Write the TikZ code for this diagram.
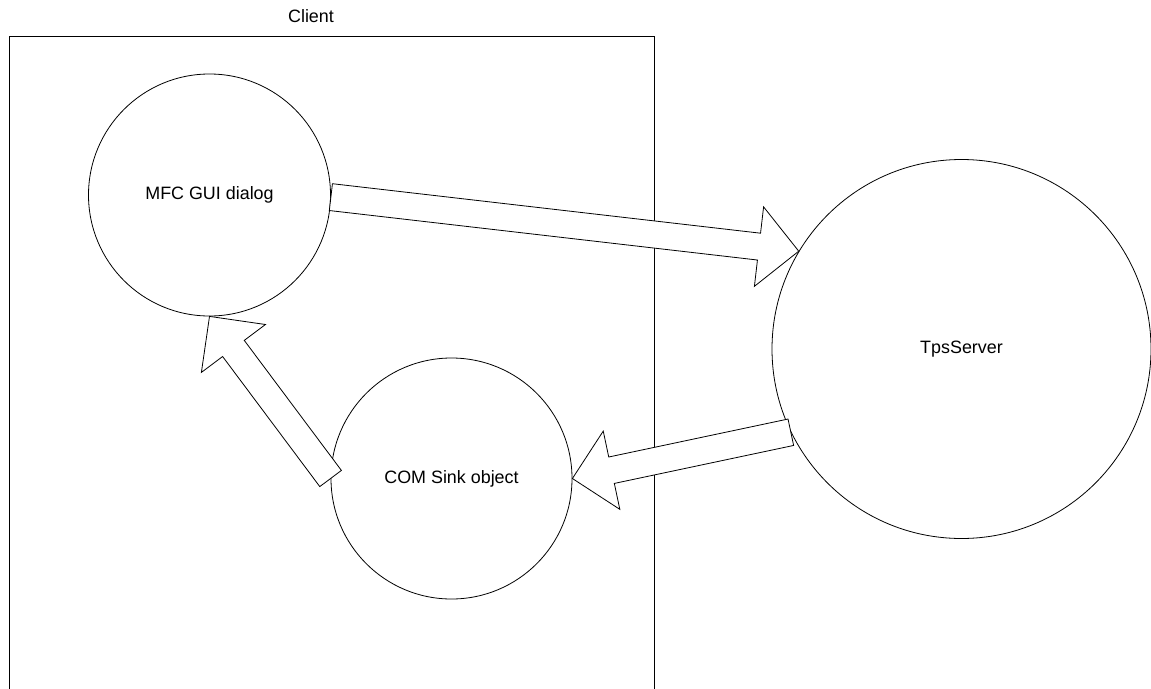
\documentclass[tikz,border=0pt]{standalone}
\usepackage{fontspec}
\setmainfont{Liberation Sans}
\usetikzlibrary{calc}
\newcommand{\myblockarrow}[2]{%
  \coordinate (ba-h) at ($(#2)!40pt!(#1)$);
  \draw[blockarr] ($(#1)!13.5pt!90:(#2)$) -- ($(ba-h)!13.5pt!90:(#2)$) -- ($(ba-h)!40pt!90:(#2)$) -- (#2)
    -- ($(ba-h)!40pt!-90:(#2)$) -- ($(ba-h)!13.5pt!-90:(#2)$) -- ($(#1)!13.5pt!-90:(#2)$) -- cycle;
}
\begin{document}
\begin{tikzpicture}[x=1pt,y=-1pt,line width=0.8pt,
  circ/.style={circle,draw,fill=white,inner sep=0pt,font=\fontsize{17.9}{21}\selectfont},
  blockarr/.style={draw,fill=white,line join=miter},
  lbl/.style={font=\fontsize{17.9}{21}\selectfont},
  container/.style={draw,minimum width=645pt,minimum height=720pt,anchor=north west,inner sep=0pt}]
\useasboundingbox[fill=white] (0,0) rectangle (1151,688);
\node[container] (client) at (9,36) {};
\node[lbl] (clientlabel) at (311,16) {Client};
\node[circ,minimum size=242pt] (mfc) at (209.5,195) {MFC GUI dialog};
\node[circ,minimum size=379pt] (tps) at (961.5,349) {TpsServer};
\node[circ,minimum size=241pt] (com) at (451.5,478.5) {COM Sink object};
\coordinate (a1s) at (mfc.-1);
\coordinate (a1e) at (tps.149);
\coordinate (a2s) at (tps.206);
\coordinate (a2e) at (com.0);
\coordinate (a3s) at (com.180);
\coordinate (a3e) at (mfc.270);
\myblockarrow{a1s}{a1e}
\myblockarrow{a2s}{a2e}
\myblockarrow{a3s}{a3e}
\end{tikzpicture}
\end{document}
